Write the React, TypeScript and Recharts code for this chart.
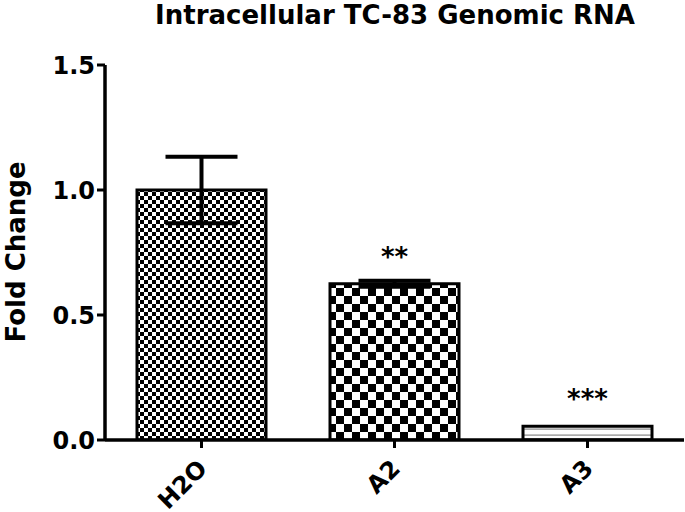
import React from 'react';
import { BarChart, Bar, XAxis, YAxis, ErrorBar, Cell, LabelList, Label } from 'recharts';

const categories = ['H2O', 'A2', 'A3'];
const foldChange = [1.0, 0.625, 0.055];
const sem = [0.133, 0.012, 0];
const significance = ['', '**', '***'];
const yTicks = [0, 0.5, 1.0, 1.5];
const patterns = ['pFine', 'pCoarse', 'pLines'];

const data = categories.map((c, i) => ({
  name: c,
  value: foldChange[i],
  err: sem[i],
  sig: significance[i],
}));

const FONT = 'DejaVu Sans, sans-serif';

const XTick = (props: any) => {
  const { x, y, payload } = props;
  const tx = x + 7;
  const ty = y + 20;
  return (
    <text
      x={tx}
      y={ty}
      transform={`rotate(-45, ${tx}, ${ty})`}
      textAnchor="end"
      fontFamily={FONT}
      fontWeight="bold"
      fontSize={24}
      fill="#000"
    >
      {payload.value}
    </text>
  );
};

const YTick = (props: any) => {
  const { x, y, payload } = props;
  return (
    <text
      x={x}
      y={y}
      dy="0.36em"
      textAnchor="end"
      fontFamily={FONT}
      fontWeight="bold"
      fontSize={24}
      fill="#000"
    >
      {Number(payload.value).toFixed(1)}
    </text>
  );
};

const SigLabel = (props: any) => {
  const { x, y, width, value } = props;
  if (!value) return null;
  return (
    <text
      x={x + width / 2}
      y={y - 18}
      textAnchor="middle"
      fontFamily={FONT}
      fontWeight="bold"
      fontSize={26}
      fill="#000"
    >
      {value}
    </text>
  );
};

export default function App() {
  return (
    <div style={{ position: 'absolute', left: 0, top: 0 }}>
      <BarChart
        width={685}
        height={512}
        data={data}
        margin={{ top: 65, right: 1, bottom: 0, left: 0 }}
        barCategoryGap={32}
      >
        <defs>
          <pattern id="pFine" width={8} height={8} patternUnits="userSpaceOnUse">
            <rect x={0} y={0} width={8} height={8} fill="#fff" />
            <rect x={0} y={0} width={4} height={4} fill="#000" />
            <rect x={4} y={4} width={4} height={4} fill="#000" />
          </pattern>
          <pattern id="pCoarse" width={16} height={16} patternUnits="userSpaceOnUse">
            <rect x={0} y={0} width={16} height={16} fill="#fff" />
            <rect x={0} y={0} width={8} height={8} fill="#000" />
            <rect x={8} y={8} width={8} height={8} fill="#000" />
          </pattern>
          <pattern id="pLines" width={8} height={6} patternUnits="userSpaceOnUse">
            <rect x={0} y={0} width={8} height={6} fill="#fff" />
            <rect x={0} y={2.5} width={8} height={1.2} fill="#888" />
          </pattern>
        </defs>
        <text
          x={395}
          y={24}
          textAnchor="middle"
          fontFamily={FONT}
          fontWeight="bold"
          fontSize={26}
          fill="#000"
        >
          Intracellular TC-83 Genomic RNA
        </text>
        <XAxis
          dataKey="name"
          height={72}
          stroke="#000"
          strokeWidth={3.5}
          tickSize={8}
          tickLine={{ stroke: '#000', strokeWidth: 3 }}
          tick={<XTick />}
          interval={0}
        />
        <YAxis
          width={105}
          domain={[0, 1.5]}
          ticks={yTicks}
          stroke="#000"
          strokeWidth={3.5}
          tickSize={8}
          tickLine={{ stroke: '#000', strokeWidth: 3 }}
          tick={<YTick />}
          allowDataOverflow
        >
          <Label
            value="Fold Change"
            angle={-90}
            position="insideLeft"
            content={() => (
              <text
                x={25}
                y={252}
                transform="rotate(-90, 25, 252)"
                textAnchor="middle"
                fontFamily={FONT}
                fontWeight="bold"
                fontSize={26}
                fill="#000"
              >
                Fold Change
              </text>
            )}
          />
        </YAxis>
        <Bar dataKey="value" stroke="#000" strokeWidth={3} isAnimationActive={false}>
          {data.map((d, i) => (
            <Cell key={d.name} fill={`url(#${patterns[i]})`} />
          ))}
          <ErrorBar dataKey="err" width={36} stroke="#000" strokeWidth={4} direction="y" />
          <LabelList dataKey="sig" content={<SigLabel />} />
        </Bar>
      </BarChart>
    </div>
  );
}
